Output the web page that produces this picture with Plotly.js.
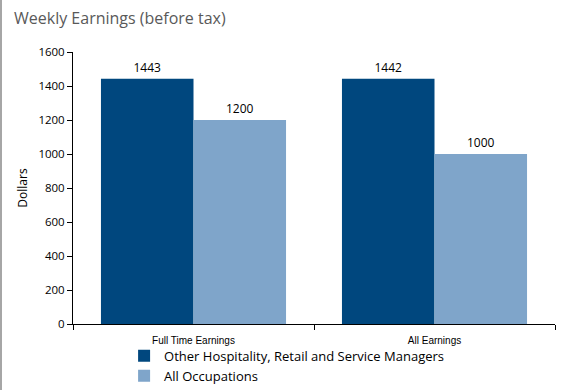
<!DOCTYPE html>
<html><head><meta charset="utf-8">
<script src="https://cdn.plot.ly/plotly-3.0.1.min.js"></script>
<style>html,body{margin:0;padding:0;background:#fff}#c{width:566px;height:390px}</style>
</head><body><div id="c"></div>
<script>
const categories = ["Full Time Earnings", "All Earnings"];
const seriesNames = ["Other Hospitality, Retail and Service Managers", "All Occupations"];
const managers = [1443, 1442];
const allOcc = [1200, 1000];
const yTicks = [0, 200, 400, 600, 800, 1000, 1200, 1400, 1600];

const font = "Open Sans, Noto Sans, sans-serif";
const traces = [
  {type: "bar", name: seriesNames[0], x: categories, y: managers, marker: {color: "#00477E"},
   text: managers.map(String), textposition: "outside", textfont: {size: 12, color: "#000"}, cliponaxis: false},
  {type: "bar", name: seriesNames[1], x: categories, y: allOcc, marker: {color: "#7FA5CA"},
   text: allOcc.map(String), textposition: "outside", textfont: {size: 12, color: "#000"}, cliponaxis: false}
];
const layout = {
  width: 566, height: 390,
  margin: {l: 73, r: 11, t: 52, b: 66, autoexpand: false},
  paper_bgcolor: "#fff", plot_bgcolor: "#fff",
  font: {family: font, color: "#000"},
  title: {text: "Weekly Earnings (before tax)", x: 14/566, xanchor: "left", y: 1 - 18/390, yanchor: "middle",
          font: {size: 16, color: "#595959", family: font}},
  barmode: "group", bargap: 0.232, bargroupgap: 0,
  xaxis: {type: "category", showline: true, linecolor: "#000", linewidth: 1, ticks: "outside", tickson: "boundaries",
          ticklen: 5, tickcolor: "#000", tickfont: {size: 10, color: "#000", family: "Liberation Sans, Arial, sans-serif"},
          ticklabelstandoff: 7, showgrid: false, zeroline: false},
  yaxis: {range: [0, 1600], tickvals: yTicks, showline: true, linecolor: "#000", ticks: "outside", ticklen: 5,
          tickcolor: "#000", tickfont: {size: 11.5, color: "#000"}, showgrid: false, zeroline: false,
          title: {text: "Dollars", font: {size: 12, color: "#000"}, standoff: 8}},
  showlegend: true,
  legend: {orientation: "v", x: 0.106, xanchor: "left", y: -0.062, yanchor: "top", font: {size: 13, color: "#000"},
           bgcolor: "rgba(0,0,0,0)", tracegroupgap: 0, itemwidth: 30},
  shapes: [{type: "line", xref: "paper", yref: "paper", x0: -72/482, x1: -72/482, y0: -0.3, y1: 1.3,
            line: {color: "#A6A6A6", width: 2}}]
};
Plotly.newPlot("c", traces, layout, {staticPlot: true, displayModeBar: false});
</script></body></html>
